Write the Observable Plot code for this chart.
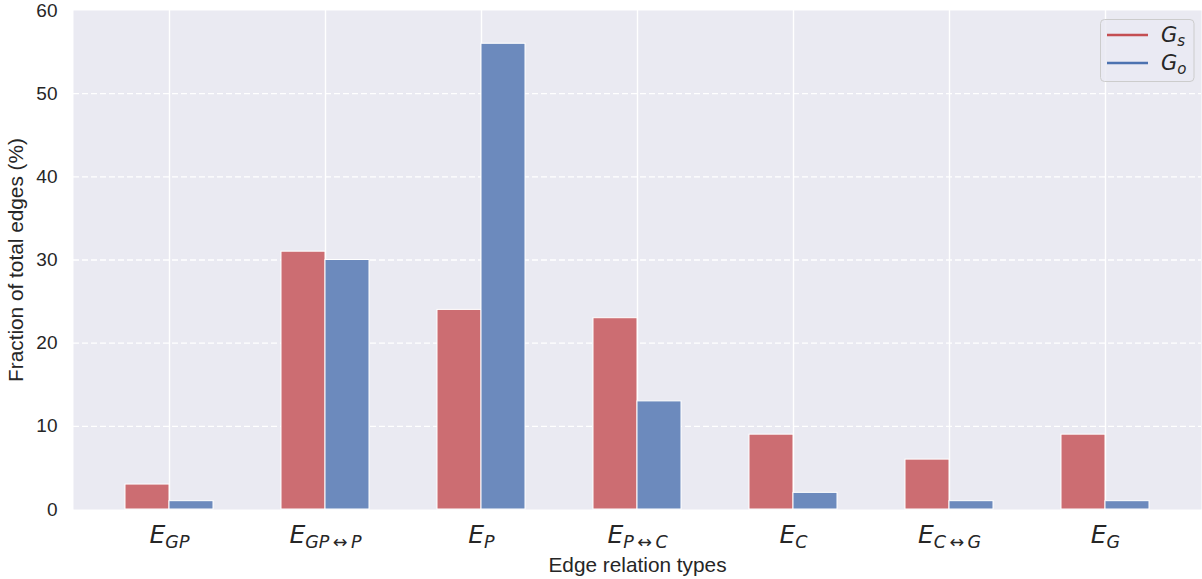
<!DOCTYPE html>
<html>
<head>
<meta charset="utf-8">
<script src="https://cdn.jsdelivr.net/npm/d3@7"></script>
<script src="https://cdn.jsdelivr.net/npm/@observablehq/plot@0.6"></script>
<style>
  body { margin: 0; background: #ffffff; }
  #wrap { position: relative; width: 1202px; height: 579px; }
  #legend { position: absolute; left: 0; top: 0; }
</style>
</head>
<body>
<div id="wrap"></div>
<script>
// ---- data ----
const categories = ["GP", "GP↔P", "P", "P↔C", "C", "C↔G", "G"];   // subscripts of E
const gsValues = [3, 31, 24, 23, 9, 6, 9];
const goValues = [1, 30, 56, 13, 2, 1, 1];
const seriesKeys = ["Gs", "Go"];
const seriesSubscripts = ["s", "o"];
const yTicks = [0, 10, 20, 30, 40, 50, 60];
const xLabel = "Edge relation types";
const yLabel = "Fraction of total edges (%)";

const barColors = {Gs: "#CC6D72", Go: "#6C8ABD"};
const lineColors = {Gs: "#C44E52", Go: "#4C72B0"};

const rows = categories.flatMap((c, i) => [
  {cat: c, series: "Gs", value: gsValues[i]},
  {cat: c, series: "Go", value: goValues[i]}
]);

const half = 44;

const plot = Plot.plot({
  width: 1202,
  height: 579,
  marginLeft: 73,
  marginRight: 1,
  marginTop: 10,
  marginBottom: 70,
  style: {background: "transparent", fontFamily: "'Liberation Sans', Arial, sans-serif", fontSize: "19px", color: "#262626"},
  x: {type: "band", domain: categories, paddingInner: 0.4373, paddingOuter: 0.3237, label: null},
  y: {domain: [0, 60], label: null},
  marks: [
    Plot.frame({fill: "#EAEAF2", stroke: null}),
    Plot.gridX({stroke: "white", strokeOpacity: 1, strokeWidth: 1.4}),
    Plot.gridY(yTicks.slice(1, -1), {stroke: "white", strokeOpacity: 1, strokeWidth: 1.4, strokeDasharray: "6,3"}),
    Plot.barY(rows.filter(d => d.series === "Gs"), {x: "cat", y: "value", fill: barColors.Gs, stroke: "white", strokeWidth: 1, insetRight: half}),
    Plot.barY(rows.filter(d => d.series === "Go"), {x: "cat", y: "value", fill: barColors.Go, stroke: "white", strokeWidth: 1, insetLeft: half}),
    Plot.axisY(yTicks, {tickSize: 0, tickPadding: 16, label: null, fontSize: 19, fill: "#262626"}),
    Plot.axisX({tickSize: 0, tickPadding: 16, label: null, tickFormat: d => "E" + d,
      fontSize: 25, fontFamily: "'DejaVu Sans', sans-serif", fontStyle: "italic", fill: "#262626"}),
    Plot.text([xLabel], {frameAnchor: "bottom", text: d => d, dy: 62, fontSize: 20.8, fill: "#262626", lineAnchor: "bottom"}),
    Plot.text([yLabel], {frameAnchor: "left", textAnchor: "middle", text: d => d, dx: -51, rotate: -90, fontSize: 20.8, fill: "#262626", lineAnchor: "bottom"})
  ]
});

// turn x tick labels "E…" into E with subscript (relation arrow gets math spacing)
d3.select(plot).selectAll('g[aria-label="x-axis tick label"] text').each(function () {
  const t = this.textContent;
  const sub = t.slice(1).replace("↔", "\u2009↔\u2009");
  this.textContent = "E";
  d3.select(this).append("tspan").attr("font-size", "17.5px").attr("dy", "5").text(sub);
});

const wrap = document.getElementById("wrap");
wrap.appendChild(plot);

// legend (inside plot, top right)
const leg = d3.select(wrap).append("svg").attr("id", "legend").attr("width", 1202).attr("height", 100);
leg.append("rect").attr("x", 1100.5).attr("y", 19.5).attr("width", 93.5).attr("height", 62).attr("rx", 4)
  .attr("fill", "#EAEAF2").attr("fill-opacity", 0.8).attr("stroke", "#CCCCCC").attr("stroke-width", 1);
seriesKeys.forEach((k, i) => {
  const y = 35 + i * 28;
  leg.append("line").attr("x1", 1107).attr("x2", 1148).attr("y1", y).attr("y2", y)
    .attr("stroke", lineColors[k]).attr("stroke-width", 2.4);
  const t = leg.append("text").attr("x", 1161).attr("y", y + 7)
    .attr("font-family", "'DejaVu Sans', sans-serif").attr("font-style", "italic")
    .attr("font-size", "21px").attr("fill", "#262626").text("G");
  t.append("tspan").attr("font-size", "15px").attr("dy", "4").text(seriesSubscripts[i]);
});
</script>
</body>
</html>
